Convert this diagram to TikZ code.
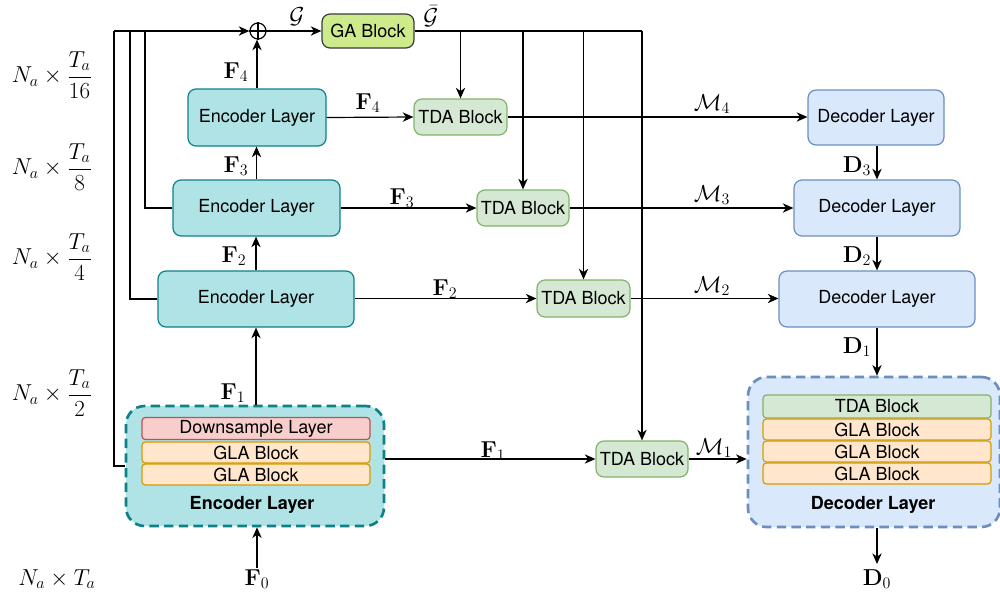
\documentclass[tikz,border=0pt]{standalone}
\usepackage{amsmath}
\usepackage[no-math]{fontspec}
\setmainfont{TeX Gyre Heros}
\usetikzlibrary{arrows.meta,calc}
\definecolor{encfill}{HTML}{B0E3E6}
\definecolor{encdraw}{HTML}{0E8088}
\definecolor{tdafill}{HTML}{D5E8D4}
\definecolor{tdadraw}{HTML}{82B366}
\definecolor{decfill}{HTML}{DAE8FC}
\definecolor{decdraw}{HTML}{6C8EBF}
\definecolor{dsfill}{HTML}{F8CECC}
\definecolor{dsdraw}{HTML}{B85450}
\definecolor{glafill}{HTML}{FFE6CC}
\definecolor{gladraw}{HTML}{D79B00}
\definecolor{gafill}{HTML}{CDEB8B}
\definecolor{gadraw}{HTML}{36393D}
\tikzset{
  box/.style 2 args={draw, rounded corners=6pt, line width=0.9pt, inner sep=0pt,
    minimum width={#1*0.75pt}, minimum height={#2*0.75pt},
    font=\fontsize{13.5}{15}\selectfont},
  encbox/.style={fill=encfill, draw=encdraw},
  tdabox/.style={fill=tdafill, draw=tdadraw},
  decbox/.style={fill=decfill, draw=decdraw},
  gabox/.style={fill=gafill, draw=gadraw},
  bigbox/.style 2 args={draw, rounded corners=14pt, line width=2pt, dash pattern=on 7pt off 4pt, inner sep=0pt,
    minimum width={#1*0.75pt}, minimum height={#2*0.75pt}},
  inbox/.style={draw, rounded corners=2.5pt, line width=0.9pt, inner sep=0pt,
    minimum width={228*0.75pt}, minimum height={22*0.75pt},
    font=\fontsize{13.5}{15}\selectfont},
  lbl/.style={font=\fontsize{17}{19}\selectfont, inner sep=1pt},
  conn/.style={line width=0.9pt},
  arr/.style={conn, -{Stealth[length=8pt,width=7pt,inset=2.5pt]}},
}
\begin{document}
\begin{tikzpicture}[x=0.75pt,y=-0.75pt]
\useasboundingbox (0,0) rectangle (1000,594);

% encoder side
\node[box={138}{57}, encbox] (e4) at (257,117.5) {Encoder Layer};
\node[box={167}{56}, encbox] (e3) at (256.5,208) {Encoder Layer};
\node[box={196}{56}, encbox] (e2) at (256,299) {Encoder Layer};
\node[bigbox={258}{120}, fill=encfill, draw=encdraw] (enc) at (255,466) {};
\node[inbox, fill=dsfill, draw=dsdraw] (ds) at (256,428.5) {Downsample Layer};
\node[inbox, fill=glafill, draw=gladraw, minimum height={21*0.75pt}] (ga1) at (256,452.5) {GLA Block};
\node[inbox, fill=glafill, draw=gladraw, minimum height={21*0.75pt}] (ga2) at (256,474.5) {GLA Block};
\node[font=\fontsize{13.5}{15}\selectfont\bfseries] (encl) at (252,505) {Encoder Layer};

% oplus and GA
\node[circle, draw, line width=0.9pt, minimum size={16*0.75pt}, inner sep=0pt] (op) at (258,31) {};
\draw[conn] (op.north) -- (op.south) (op.west) -- (op.east);
\node[box={92}{34}, gabox] (ga) at (368,31) {GA Block};

% TDA blocks
\node[box={93}{36}, tdabox] (t4) at (460.5,117) {TDA Block};
\node[box={92}{36}, tdabox] (t3) at (523,208) {TDA Block};
\node[box={93}{37}, tdabox] (t2) at (583.5,298.5) {TDA Block};
\node[box={92}{36}, tdabox] (t1) at (642,459) {TDA Block};

% decoder side
\node[box={136}{55}, decbox] (d4) at (876,117.5) {Decoder Layer};
\node[box={166}{56}, decbox] (d3) at (877,208) {Decoder Layer};
\node[box={196}{56}, decbox] (d2) at (877,299) {Decoder Layer};
\node[bigbox={252}{150}, fill=decfill, draw=decdraw] (dec) at (874,452) {};
\node[inbox, fill=tdafill, draw=tdadraw, minimum height={23*0.75pt}] (dt) at (877,406.5) {TDA Block};
\node[inbox, fill=glafill, draw=gladraw, minimum height={21*0.75pt}] (dg1) at (877,429.5) {GLA Block};
\node[inbox, fill=glafill, draw=gladraw, minimum height={21*0.75pt}] (dg2) at (877,451.5) {GLA Block};
\node[inbox, fill=glafill, draw=gladraw, minimum height={21*0.75pt}] (dg3) at (877,473.5) {GLA Block};
\node[font=\fontsize{13.5}{15}\selectfont\bfseries] (decl) at (873,505) {Decoder Layer};

% input / output
\node[lbl] (f0) at (257,579) {$\mathbf{F}_0$};
\node[lbl] (d0) at (877,579) {$\mathbf{D}_0$};
\draw[arr] (f0.north) -- (f0.north |- enc.south);
\draw[arr] (d2.south |- dec.south) -- (d2.south |- 0,564);

% encoder chain
\draw[arr] (enc.north -| e2.south) -- (e2.south);
\draw[arr] (e2.north) -- (e2.north |- e3.south);
\draw[arr] (e3.north) -- (e3.north |- e4.south);
\draw[arr] (e4.north) -- (e4.north |- op.south);
\node[lbl] (lf1) at (233,393) {$\mathbf{F}_1$};
\node[lbl] (lf2) at (234,256) {$\mathbf{F}_2$};
\node[lbl] (lf3) at (236,166) {$\mathbf{F}_3$};
\node[lbl] (lf4) at (236,72) {$\mathbf{F}_4$};

% skip / global lines on the left
\coordinate (lt) at (114,31);
\coordinate (l2) at (130,31);
\coordinate (l3) at (145,31);
\draw[conn] (enc.west) -| (lt);
\draw[conn] (e2.west) -| (l2);
\draw[conn] (e3.west) -| (l3);
\draw[arr] (lt) -- (op.west);
\draw[arr] (op.east) -- (ga.west);
\node[lbl] (lg) at (297,17) {$\mathcal{G}$};
\node[lbl] (lgb) at (431,16) {$\bar{\mathcal{G}}$};

% GA to TDA
\coordinate (gend) at (t1.north |- ga.east);
\draw[conn] (ga.east) -- (gend);
\draw[arr] (ga.east -| t4.north) -- (t4.north);
\draw[arr] (ga.east -| t3.north) -- (t3.north);
\draw[arr] (ga.east -| t2.north) -- (t2.north);
\draw[arr] (gend) -- (t1.north);

% encoder to TDA
\draw[arr] (e4.east) -- (t4.west);
\draw[arr] (e3.east) -- (t3.west);
\draw[arr] (e2.east |- t2.west) -- (t2.west);
\draw[arr] (enc.east |- t1.west) -- (t1.west);
\node[lbl] (lfe4) at (368,103) {$\mathbf{F}_4$};
\node[lbl] (lfe3) at (402,198) {$\mathbf{F}_3$};
\node[lbl] (lfe2) at (445,289) {$\mathbf{F}_2$};
\node[lbl] (lfe1) at (493,451) {$\mathbf{F}_1$};

% TDA to decoder
\draw[arr] (t4.east) -- (t4.east -| d4.west);
\draw[arr] (t3.east) -- (t3.east -| d3.west);
\draw[arr] (t2.east) -- (t2.east -| d2.west);
\draw[arr] (t1.east) -- (t1.east -| dec.west);
\node[lbl] (lm4) at (712,104) {$\mathcal{M}_4$};
\node[lbl] (lm3) at (712,195) {$\mathcal{M}_3$};
\node[lbl] (lm2) at (712,286) {$\mathcal{M}_2$};
\node[lbl] (lm1) at (714,448) {$\mathcal{M}_1$};

% decoder chain
\draw[arr] (d4.south -| d3.north) -- (d3.north);
\draw[arr] (d3.south) -- (d3.south |- d2.north);
\draw[arr] (d2.south) -- (d2.south |- dec.north);
\node[lbl] (ld3) at (857,166) {$\mathbf{D}_3$};
\node[lbl] (ld2) at (857,256) {$\mathbf{D}_2$};
\node[lbl] (ld1) at (857,347) {$\mathbf{D}_1$};

% left scale labels
\node[lbl] (s16) at (52,75) {$N_a \times \dfrac{T_a}{16}$};
\node[lbl] (s8) at (52,167) {$N_a \times \dfrac{T_a}{8}$};
\node[lbl] (s4) at (52,257) {$N_a \times \dfrac{T_a}{4}$};
\node[lbl] (s2) at (52,393) {$N_a \times \dfrac{T_a}{2}$};
\node[lbl] (s1) at (57,579) {$N_a \times T_a$};
\end{tikzpicture}
\end{document}
